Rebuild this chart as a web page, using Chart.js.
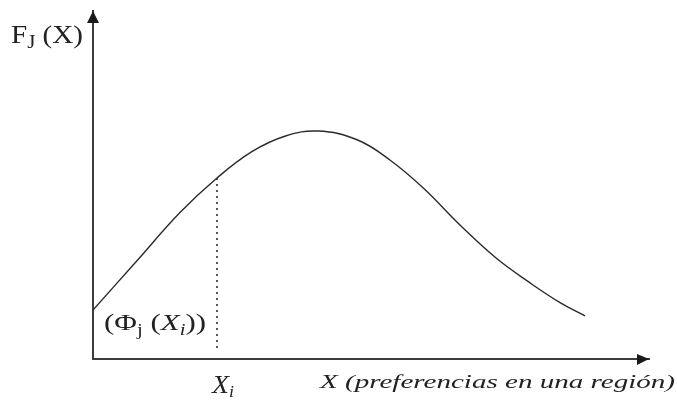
<!DOCTYPE html>
<html>
<head>
<meta charset="utf-8">
<script src="https://cdn.jsdelivr.net/npm/chart.js@4"></script>
<style>
  body { margin: 0; background: #fff; }
</style>
</head>
<body>
<canvas id="chart" width="677" height="401"></canvas>
<script>
// curve F_j(X) (x and y in axis units, 0..100)
const curveX = [0, 7.5, 15.6, 22.3, 28.5, 34.5, 40.5, 47.5, 53.4, 59.5, 66.0, 72.5, 78.5, 84.0, 88.5];
const curveY = [14.1, 27.5, 42.0, 52.0, 59.5, 64.0, 65.5, 63.0, 57.2, 49.0, 38.5, 29.0, 22.0, 16.2, 12.4];

// the marked preference X_i and where the dotted drop line stops
const xiValue = 22.3;
const xiCurveY = 52.0;
const dropBottom = 2.5;

const axisMax = 100;
const ink = '#222';
const axisColor = '#3c3c3c';
const serif = '"Liberation Serif", "DejaVu Serif", serif';

const curvePoints = curveX.map((x, i) => ({ x: x, y: curveY[i] }));
const dropPoints = [{ x: xiValue, y: xiCurveY }, { x: xiValue, y: dropBottom }];

// draws a row of text runs (with subscripts) squeezed into a given width
function drawRuns(ctx, runs, x, baseline, width) {
    let natural = 0;
    for (const r of runs) {
        ctx.font = (r.italic ? 'italic ' : '') + r.size + 'px ' + serif;
        r.w = ctx.measureText(r.t).width;
        natural += r.w;
    }
    const sx = width / natural;
    ctx.save();
    ctx.translate(x, baseline);
    ctx.scale(sx, 1);
    let cx = 0;
    for (const r of runs) {
        ctx.font = (r.italic ? 'italic ' : '') + r.size + 'px ' + serif;
        ctx.fillText(r.t, cx, r.sub ? r.sub : 0);
        cx += r.w;
    }
    ctx.restore();
}

const annotations = {
    id: 'annotations',
    afterDraw(chart) {
        const ctx = chart.ctx;
        const xs = chart.scales.x;
        const ys = chart.scales.y;
        const left = xs.getPixelForValue(0);
        const right = xs.getPixelForValue(axisMax);
        const top = ys.getPixelForValue(axisMax);
        const bottom = ys.getPixelForValue(0);

        ctx.save();
        ctx.fillStyle = '#1a1a1a';
        // arrow heads
        ctx.beginPath();
        ctx.moveTo(right, bottom);
        ctx.lineTo(right - 12, bottom - 5);
        ctx.lineTo(right - 12, bottom + 6);
        ctx.closePath();
        ctx.fill();
        ctx.beginPath();
        ctx.moveTo(left, top);
        ctx.lineTo(left - 6, top + 12);
        ctx.lineTo(left + 6, top + 12);
        ctx.closePath();
        ctx.fill();

        ctx.fillStyle = ink;
        ctx.textBaseline = 'alphabetic';
        drawRuns(ctx, [
            { t: 'F', size: 25 },
            { t: 'J', size: 18, sub: 5 },
            { t: ' (X)', size: 25 }
        ], 11, 43, 72);

        drawRuns(ctx, [
            { t: '(Φ', size: 24 },
            { t: 'j', size: 16, sub: 5 },
            { t: ' (', size: 24 },
            { t: 'X', size: 24, italic: true },
            { t: 'i', size: 16, sub: 5, italic: true },
            { t: '))', size: 24 }
        ], 104, 330, 102);

        const xiPx = xs.getPixelForValue(xiValue);
        drawRuns(ctx, [
            { t: 'X', size: 25, italic: true },
            { t: 'i', size: 16, sub: 4, italic: true }
        ], xiPx - 5, 393, 22);

        drawRuns(ctx, [
            { t: 'X (preferencias en una región)', size: 19, italic: true }
        ], 320, 388, 355);
        ctx.restore();
    }
};

new Chart(document.getElementById('chart'), {
    type: 'line',
    data: {
        datasets: [
            {
                label: 'F_j(X)',
                data: curvePoints,
                borderColor: '#2a2a2a',
                borderWidth: 1.4,
                pointRadius: 0,
                tension: 0.4,
                fill: false
            },
            {
                label: 'X_i',
                data: dropPoints,
                borderColor: '#222',
                borderWidth: 1.5,
                borderDash: [2, 4],
                pointRadius: 0,
                fill: false
            }
        ]
    },
    options: {
        responsive: false,
        animation: false,
        layout: { padding: { left: 93, right: 28, top: 11, bottom: 42 } },
        plugins: {
            legend: { display: false },
            tooltip: { enabled: false }
        },
        scales: {
            x: {
                type: 'linear',
                min: 0,
                max: axisMax,
                grid: { display: false, drawTicks: false },
                ticks: { display: false },
                border: { display: true, color: axisColor, width: 2 }
            },
            y: {
                type: 'linear',
                min: 0,
                max: axisMax,
                grid: { display: false, drawTicks: false },
                ticks: { display: false },
                border: { display: true, color: axisColor, width: 2 }
            }
        }
    },
    plugins: [annotations]
});
</script>
</body>
</html>
